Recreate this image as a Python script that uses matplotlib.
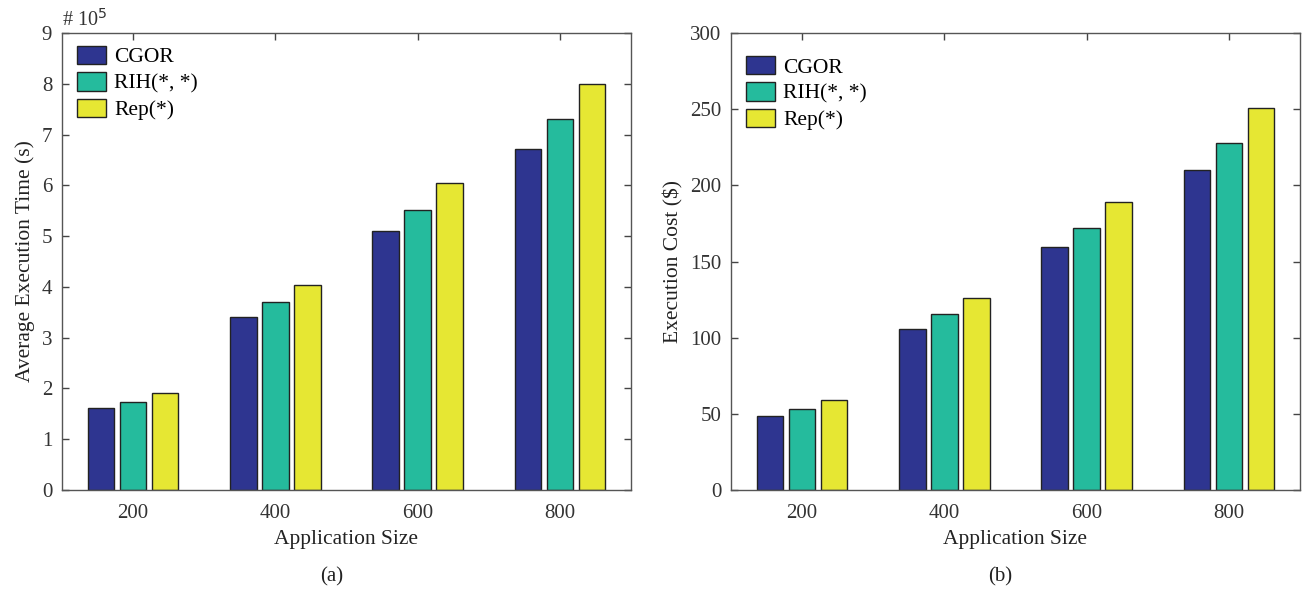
import matplotlib
matplotlib.use("Agg")
import matplotlib.pyplot as plt
import numpy as np

plt.rcParams['font.family'] = ['Liberation Serif', 'DejaVu Serif']

sizes = ['200', '400', '600', '800']
series = ['CGOR', 'RIH(*, *)', 'Rep(*)']
time_cgor = [1.61, 3.40, 5.10, 6.71]
time_rih = [1.73, 3.71, 5.51, 7.30]
time_rep = [1.92, 4.04, 6.04, 7.99]
cost_cgor = [48.5, 105.5, 159.3, 210.0]
cost_rih = [53.5, 115.3, 171.8, 228.0]
cost_rep = [59.0, 126.0, 188.8, 250.5]
colors = ['#2E3590', '#25BB9D', '#E6E733']

fig = plt.figure(figsize=(13.07, 5.89), dpi=100)
ax1 = fig.add_axes([0.0474, 0.168, 0.4354, 0.776])
ax2 = fig.add_axes([0.5593, 0.168, 0.4353, 0.776])

x = np.arange(1, len(sizes) + 1)
w = 0.185
off = 0.225

def draw(ax, data, ylim, yticks, ylabel, leg_top):
    for i, (vals, c, lab) in enumerate(zip(data, colors, series)):
        ax.bar(x + (i - 1) * off, vals, width=w, color=c, edgecolor='#222222',
               linewidth=1.0, label=lab, zorder=2)
    ax.set_xlim(0.5, 4.5)
    ax.set_ylim(*ylim)
    ax.set_yticks(yticks)
    ax.set_xticks(x)
    ax.set_xticklabels(sizes)
    ax.tick_params(direction='in', top=True, right=True, labelsize=15,
                   color='#444444', length=5, width=1, labelcolor='#333333')
    ax.tick_params(axis='x', pad=10)
    ax.tick_params(axis='y', pad=7)
    for s in ax.spines.values():
        s.set_color('#555555')
        s.set_linewidth(1.0)
    ax.set_xlabel('Application Size', fontsize=15.5, color='#222222', labelpad=5)
    ax.set_ylabel(ylabel, fontsize=15.5, color='#222222', labelpad=4.5)
    ax.legend(loc='upper left', frameon=False, fontsize=15.5,
              handlelength=1.35, handleheight=0.95, labelspacing=0.22,
              handletextpad=0.4, borderaxespad=0.0, borderpad=0.0,
              bbox_to_anchor=(0.026, leg_top))

draw(ax1, [time_cgor, time_rih, time_rep], (0, 9), range(0, 10),
     'Average Execution Time (s)', 0.972)
draw(ax2, [cost_cgor, cost_rih, cost_rep], (0, 300), range(0, 301, 50),
     'Execution Cost ($)', 0.95)

ax1.text(0.0, 1.005, '# 10$^5$', transform=ax1.transAxes, fontsize=14.5,
         color='#333333', ha='left', va='bottom')

fig.text(0.254, 0.02, '(a)', ha='center', va='center', fontsize=15, color='#222222')
fig.text(0.765, 0.02, '(b)', ha='center', va='center', fontsize=15, color='#222222')

fig.savefig('out.png', dpi=100)
